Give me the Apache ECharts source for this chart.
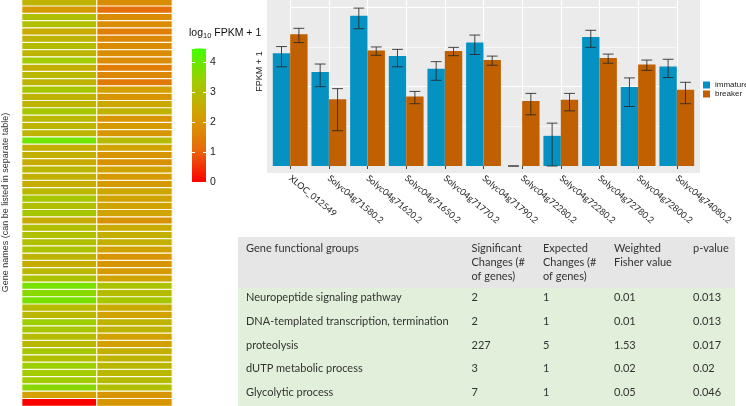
<!DOCTYPE html>
<html>
<head>
<meta charset="utf-8">
<script src="https://cdn.jsdelivr.net/npm/echarts@6/dist/echarts.min.js"></script>
<style>html,body{margin:0;padding:0;background:#fff;}#c{width:746px;height:406px;}</style>
</head>
<body>
<div id="c"></div>
<script>
// ---------- heatmap data (log10 FPKM + 1), rows top to bottom ----------
const heatColumns = ['immature', 'breaker'];
const immatureHeat = [2.7,2.1,3.0,3.0,2.5,2.7,2.9,2.7,3.3,2.6,2.8,2.7,3.2,2.7,
  2.7,3.2,2.8,2.7,2.7,3.9,2.6,2.6,2.5,2.8,2.6,2.5,2.8,3.2,
  3.0,3.2,2.5,3.0,3.0,3.0,3.1,2.7,2.5,2.8,3.1,3.8,3.6,
  3.8,2.9,2.8,3.4,3.2,2.9,2.8,3.2,3.0,3.4,3.3,3.3,3.6,2.2,0];
const breakerHeat = [1.8,1.2,1.8,1.8,1.5,1.7,1.8,1.8,1.8,1.5,1.7,1.4,2.2,2.0,
  2.4,2.7,2.0,2.1,2.0,2.9,2.3,2.0,1.9,2.3,2.1,2.1,2.4,2.3,
  2.3,2.3,1.9,2.5,2.6,2.6,2.3,2.0,2.0,2.1,2.3,3.1,2.9,
  3.2,2.5,2.3,2.7,2.7,2.3,2.2,2.6,2.7,2.8,2.8,2.9,3.0,2.0,2.0];
const colorbarTicks = [0, 1, 2, 3, 4];
const colorbarMax = 4.45;
const heatColorScale = ['#ff0000', '#e66c0c', '#d4a000', '#a0cc00', '#40ff00'];

// ---------- bar chart data (FPKM + 1, axis units) ----------
const categories = ['XLOC_012549','Solyc04g71580.2','Solyc04g71620.2','Solyc04g71650.2','Solyc04g71770.2',
  'Solyc04g71790.2','Solyc04g72280.2','Solyc04g72280.2','Solyc04g72780.2','Solyc04g72800.2','Solyc04g74080.2'];
const immatureMean = [2.84,2.37,3.79,2.77,2.45,3.11,0,0.76,3.25,1.99,2.51];
const immatureLow  = [2.50,2.00,3.46,2.50,2.16,2.81,0,0.00,2.99,1.50,2.23];
const immatureHigh = [3.01,2.57,3.98,2.94,2.63,3.30,0,1.08,3.42,2.22,2.69];
const breakerMean  = [3.32,1.68,2.91,1.75,2.90,2.67,1.64,1.67,2.72,2.56,1.92];
const breakerLow   = [3.11,0.89,2.79,1.57,2.78,2.54,1.29,1.39,2.59,2.41,1.57];
const breakerHigh  = [3.47,1.95,3.00,1.88,2.99,2.77,1.83,1.83,2.82,2.67,2.11];

// ---------- table ----------
const tableHeader = ['Gene functional groups','Significant\nChanges (#\nof genes)','Expected\nChanges (#\nof genes)','Weighted\nFisher value','p-value'];
const tableGroups = ['Neuropeptide signaling pathway','DNA-templated transcription, termination','proteolysis','dUTP metabolic process','Glycolytic process'];
const tableSignificant = ['2','2','227','3','7'];
const tableExpected = ['1','1','5','1','1'];
const tableFisher = ['0.01','0.01','1.53','0.02','0.05'];
const tablePValue = ['0.013','0.013','0.017','0.02','0.046'];

const BLUE = '#0592c3', ORANGE = '#c06000';
const TXT = '#333';

const heatData = [];
immatureHeat.forEach((v, i) => heatData.push([0, i, v]));
breakerHeat.forEach((v, i) => heatData.push([1, i, v]));
const rowNames = immatureHeat.map((_, i) => 'gene ' + (i + 1));

const colorbarGradient = new echarts.graphic.LinearGradient(0, 1, 0, 0,
  heatColorScale.map((c, i) => ({ offset: i / (heatColorScale.length - 1), color: c })));

function errRender(side) {
  return function (params, api) {
    const i = api.value(0), lo = api.value(1), hi = api.value(2);
    const band = api.size([1, 0])[0];
    const cx = api.coord([i, 0])[0] + side * band * 0.225;
    const yLo = api.coord([i, lo])[1], yHi = api.coord([i, hi])[1];
    const hw = band * 0.14;
    const st = { stroke: 'rgba(40,40,40,0.85)', lineWidth: 1 };
    return { type: 'group', children: [
      { type: 'line', shape: { x1: cx, y1: yHi, x2: cx, y2: yLo }, style: st },
      { type: 'line', shape: { x1: cx - hw, y1: yHi, x2: cx + hw, y2: yHi }, style: st },
      { type: 'line', shape: { x1: cx - hw, y1: yLo, x2: cx + hw, y2: yLo }, style: st }
    ]};
  };
}

// ---------- table graphic ----------
const TABLE_X = 238, TABLE_W = 497, HEADER_Y = 237, HEADER_H = 51, BODY_H = 118;
const COL_X = [246, 471.5, 543, 614, 693];
const HEAD_LINE_H = 14.2, ROW0 = 297.7, ROW_STEP = 23.7;
const TFONT = 'Lato, "Liberation Sans", sans-serif', TSIZE = 11;
const graphics = [
  { type: 'rect', shape: { x: TABLE_X, y: HEADER_Y, width: TABLE_W, height: HEADER_H }, style: { fill: '#e7e6e6' }, silent: true },
  { type: 'rect', shape: { x: TABLE_X, y: HEADER_Y + HEADER_H, width: TABLE_W, height: BODY_H }, style: { fill: '#e2efda' }, silent: true }
];
tableHeader.forEach((t, c) => {
  graphics.push({ type: 'text', style: { text: t, x: COL_X[c], y: HEADER_Y + 4.3, fill: TXT, fontSize: TSIZE, fontFamily: TFONT, lineHeight: HEAD_LINE_H, verticalAlign: 'top' }, silent: true });
});
const tableCols = [tableGroups, tableSignificant, tableExpected, tableFisher, tablePValue];
tableCols.forEach((col, c) => {
  col.forEach((t, r) => {
    graphics.push({ type: 'text', style: { text: t, x: COL_X[c], y: ROW0 + r * ROW_STEP, fill: TXT, fontSize: TSIZE, fontFamily: TFONT, verticalAlign: 'middle' }, silent: true });
  });
});

const chart = echarts.init(document.getElementById('c'), null, { renderer: 'canvas' });
chart.setOption({
  animation: false,
  backgroundColor: '#fff',
  textStyle: { fontFamily: '"Liberation Sans", Arial, sans-serif' },
  title: {
    text: '{a|log}{b|10}{a| FPKM + 1}',
    left: 189, top: 26, padding: 0,
    textStyle: { fontWeight: 'normal', rich: {
      a: { fontSize: 10.5, fontWeight: 'normal', color: '#111', lineHeight: 14, fontFamily: '"Liberation Sans", sans-serif' },
      b: { fontSize: 7.5, fontWeight: 'normal', color: '#111', lineHeight: 6, verticalAlign: 'bottom', fontFamily: '"Liberation Sans", sans-serif' }
    } }
  },
  legend: {
    data: ['immature', 'breaker'], orient: 'vertical', left: 703, top: 81,
    itemWidth: 7, itemHeight: 7, itemGap: 1, padding: 0, icon: 'rect',
    textStyle: { fontSize: 8, color: '#222', lineHeight: 8 }
  },
  grid: [
    { left: 267, right: 46, top: -30, bottom: 233, show: true, backgroundColor: '#ebebeb', borderWidth: 0, z: -1, outerBoundsMode: 'none' },
    { left: 290.2, right: 69.2, top: -30, bottom: 240, outerBoundsMode: 'none' },
    { left: 22, right: 574, top: -1, bottom: 0, outerBoundsMode: 'none' },
    { left: 192, top: 48.5, width: 14, height: 133.5, outerBoundsMode: 'none' }
  ],
  xAxis: [
    { type: 'value', gridIndex: 0, show: false },
    { type: 'category', gridIndex: 1, data: categories, boundaryGap: false, offset: 7,
      axisLine: { show: false }, axisTick: { show: true, length: 3, lineStyle: { color: '#444' } },
      axisLabel: { interval: 0, rotate: -40, margin: 4, fontSize: 9, fontFamily: 'Lato, sans-serif', color: '#222' },
      splitLine: { show: true, interval: 0, lineStyle: { color: '#fff', width: 1 } } },
    { type: 'category', gridIndex: 2, data: heatColumns, show: false },
    { type: 'category', gridIndex: 3, data: ['scale'], show: false }
  ],
  yAxis: [
    { type: 'value', gridIndex: 0, min: 0, max: 1, name: 'FPKM + 1', nameLocation: 'middle', nameGap: 3,
      nameTextStyle: { fontSize: 9, color: '#222' },
      axisLine: { show: false }, axisTick: { show: false }, axisLabel: { show: false }, splitLine: { show: false } },
    { type: 'value', gridIndex: 1, min: 0, max: 4.94, interval: 1,
      axisLine: { show: false }, axisTick: { show: false }, axisLabel: { show: false },
      splitLine: { show: true, showMinLine: false, lineStyle: { color: ['rgba(255,255,255,0.6)', '#ffffff'], width: 1 } } },
    { type: 'category', gridIndex: 2, data: rowNames, inverse: true,
      name: 'Gene names (can be listed in separate table)', nameLocation: 'middle', nameGap: 12, nameRotate: 90,
      nameTextStyle: { fontSize: 9, color: '#333' },
      axisLine: { show: false }, axisTick: { show: false }, axisLabel: { show: false } },
    { type: 'value', gridIndex: 3, position: 'left', min: 0, max: colorbarMax, interval: 1, z: 10,
      axisLine: { show: false }, axisLabel: { show: false }, splitLine: { show: false },
      axisTick: { show: true, inside: true, length: 3, lineStyle: { color: '#fff', width: 1 } } },
    { type: 'value', gridIndex: 3, position: 'right', min: 0, max: colorbarMax, interval: 1, z: 10,
      axisLine: { show: false }, splitLine: { show: false },
      axisTick: { show: true, inside: true, length: 3, lineStyle: { color: '#fff', width: 1 } },
      axisLabel: { show: true, margin: 4, fontSize: 10.5, color: '#222',
        formatter: v => colorbarTicks.indexOf(v) >= 0 ? String(v) : '' } }
  ],
  visualMap: {
    type: 'continuous', show: false, min: 0, max: colorbarMax, seriesIndex: 0,
    inRange: { color: heatColorScale }
  },
  series: [
    { type: 'heatmap', xAxisIndex: 2, yAxisIndex: 2, data: heatData,
      itemStyle: { borderColor: '#fffbea', borderWidth: 1.2 }, emphasis: { disabled: true } },
    { type: 'bar', name: 'immature', xAxisIndex: 1, yAxisIndex: 1, data: immatureMean,
      barWidth: '45%', barGap: '0%', itemStyle: { color: BLUE } },
    { type: 'bar', name: 'breaker', xAxisIndex: 1, yAxisIndex: 1, data: breakerMean,
      barWidth: '45%', barGap: '0%', itemStyle: { color: ORANGE } },
    { type: 'custom', name: 'err-immature', xAxisIndex: 1, yAxisIndex: 1, z: 5,
      data: immatureMean.map((_, i) => [i, immatureLow[i], immatureHigh[i]]),
      encode: { x: 0, y: [1, 2] }, renderItem: errRender(-1) },
    { type: 'custom', name: 'err-breaker', xAxisIndex: 1, yAxisIndex: 1, z: 5,
      data: breakerMean.map((_, i) => [i, breakerLow[i], breakerHigh[i]]),
      encode: { x: 0, y: [1, 2] }, renderItem: errRender(1) },
    { type: 'bar', name: 'colorbar', xAxisIndex: 3, yAxisIndex: 4, data: [colorbarMax],
      barWidth: '100%', itemStyle: { color: colorbarGradient }, silent: true }
  ],
  graphic: graphics
});
</script>
</body>
</html>
